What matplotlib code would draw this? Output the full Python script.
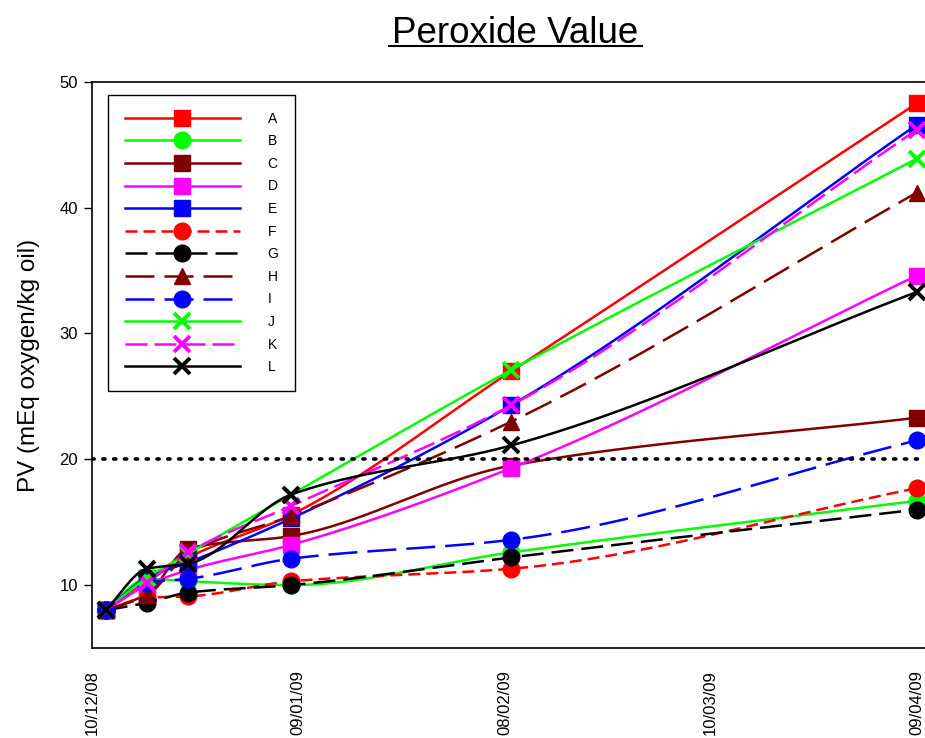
import datetime as dt
import numpy as np
import matplotlib
matplotlib.use("Agg")
import matplotlib.pyplot as plt
import matplotlib.dates as mdates
from matplotlib.lines import Line2D

plt.rcParams['font.family'] = ['Liberation Sans', 'DejaVu Sans']

# sampling dates
dates = [dt.date(2008, 12, 12), dt.date(2008, 12, 18), dt.date(2008, 12, 24),
         dt.date(2009, 1, 8), dt.date(2009, 2, 9), dt.date(2009, 4, 9)]
tick_dates = [dt.date(2008, 12, 10), dt.date(2009, 1, 9), dt.date(2009, 2, 8),
              dt.date(2009, 3, 10), dt.date(2009, 4, 9)]

labels = ["A", "B", "C", "D", "E", "F", "G", "H", "I", "J", "K", "L"]
A = [8.0, 10.3, 12.2, 15.6, 27.0, 48.3]
B = [8.0, 10.5, 10.3, 10.0, 12.6, 16.7]
C = [8.0, 9.3, 12.9, 13.9, 19.5, 23.3]
D = [8.0, 10.0, 11.2, 13.2, 19.3, 34.6]
E = [8.0, 10.6, 11.8, 15.3, 24.3, 46.6]
F = [8.0, 9.0, 9.1, 10.3, 11.3, 17.7]
G = [8.0, 8.6, 9.4, 10.0, 12.2, 16.0]
H = [8.0, 9.2, 12.5, 15.5, 23.0, 41.2]
I = [8.0, 10.2, 10.5, 12.1, 13.6, 21.5]
J = [8.0, 10.6, 12.5, 17.2, 27.1, 43.9]
K = [8.0, 10.2, 12.6, 16.3, 24.3, 46.2]
L = [8.0, 11.3, 11.7, 17.2, 21.1, 33.3]
series = [A, B, C, D, E, F, G, H, I, J, K, L]
limit = 20

red, green, maroon, magenta, blue, black = "#ff0000", "#00ff00", "#800000", "#ff00ff", "#0000ff", "#000000"
styles = [
    (red, None, "s"), (green, None, "o"), (maroon, None, "s"), (magenta, None, "s"),
    (blue, None, "s"), (red, (4.8, 2.4), "o"), (black, (8.8, 3.2), "o"),
    (maroon, (11.6, 4), "^"), (blue, (11.6, 4), "o"), (green, None, "x"),
    (magenta, (8.8, 2.8), "x"), (black, None, "x"),
]
msize = {"s": 11, "o": 12, "^": 12, "x": 11}


def smooth(x, y, n=300):
    # monotone cubic (pchip) through the points, for the smoothed lines
    x = np.asarray(x, float)
    y = np.asarray(y, float)
    h = np.diff(x)
    delta = np.diff(y) / h
    d = np.zeros_like(y)
    for i in range(1, len(x) - 1):
        if delta[i - 1] * delta[i] > 0:
            w1 = 2 * h[i] + h[i - 1]
            w2 = h[i] + 2 * h[i - 1]
            d[i] = (w1 + w2) / (w1 / delta[i - 1] + w2 / delta[i])
    d[0] = delta[0]
    d[-1] = delta[-1]
    xs = np.linspace(x[0], x[-1], n)
    idx = np.clip(np.searchsorted(x, xs) - 1, 0, len(x) - 2)
    t = (xs - x[idx]) / h[idx]
    h00 = 2 * t ** 3 - 3 * t ** 2 + 1
    h10 = t ** 3 - 2 * t ** 2 + t
    h01 = -2 * t ** 3 + 3 * t ** 2
    h11 = t ** 3 - t ** 2
    ys = h00 * y[idx] + h10 * h[idx] * d[idx] + h01 * y[idx + 1] + h11 * h[idx] * d[idx + 1]
    return xs, ys


fig = plt.figure(figsize=(9.25, 7.38), dpi=100)
ax = fig.add_axes([0.0995, 0.122, 0.905, 0.767])

xd = mdates.date2num(dates)
handles = []
for vals, (col, dash, mk) in zip(series, styles):
    xs, ys = smooth(xd, vals)
    ln, = ax.plot(xs, ys, color=col, lw=1.8)
    if dash:
        ln.set_dashes(dash)
    mew = 2.8 if mk == "x" else 1
    ax.plot(xd, vals, ls="none", marker=mk, color=col, ms=msize[mk], mew=mew)
    h = Line2D([], [], color=col, lw=1.8, marker=mk, ms=msize[mk], mew=mew)
    if dash:
        h.set_dashes(dash)
    handles.append(h)

ax.axhline(limit, color="black", ls=(0, (0.6, 2.4)), lw=2.6, dash_capstyle="round")

ax.set_ylim(5, 50)
ax.set_yticks([10, 20, 30, 40, 50])
start = mdates.date2num(dt.date(2008, 12, 10))
ax.set_xlim(start, start + 121.8)
ax.set_xticks(mdates.date2num(tick_dates))
ax.xaxis.set_major_formatter(mdates.DateFormatter("%d/%m/%y"))
ax.tick_params(axis="x", length=0, pad=16, labelsize=12, labelrotation=90)
ax.tick_params(axis="y", length=6, width=1, direction="out", pad=4, labelsize=12)
ax.set_ylabel("PV (mEq oxygen/kg oil)", fontsize=17.5, labelpad=14)
for s in ax.spines.values():
    s.set_linewidth(1.2)
ax.spines["right"].set_visible(False)

leg = ax.legend(handles, labels, loc="upper left", bbox_to_anchor=(0.019, 0.977),
                borderaxespad=0, fontsize=10, handlelength=8.3, handletextpad=2.0,
                labelspacing=0.62, borderpad=1.2, fancybox=False, framealpha=1,
                edgecolor="black")
leg.get_frame().set_linewidth(1.0)

fig.text(0.557, 0.955, "Peroxide Value", ha="center", va="center", fontsize=26.5)
fig.add_artist(Line2D([0.420, 0.694], [0.938, 0.938], color="black", lw=1.5))

fig.savefig("out.png", dpi=100)
